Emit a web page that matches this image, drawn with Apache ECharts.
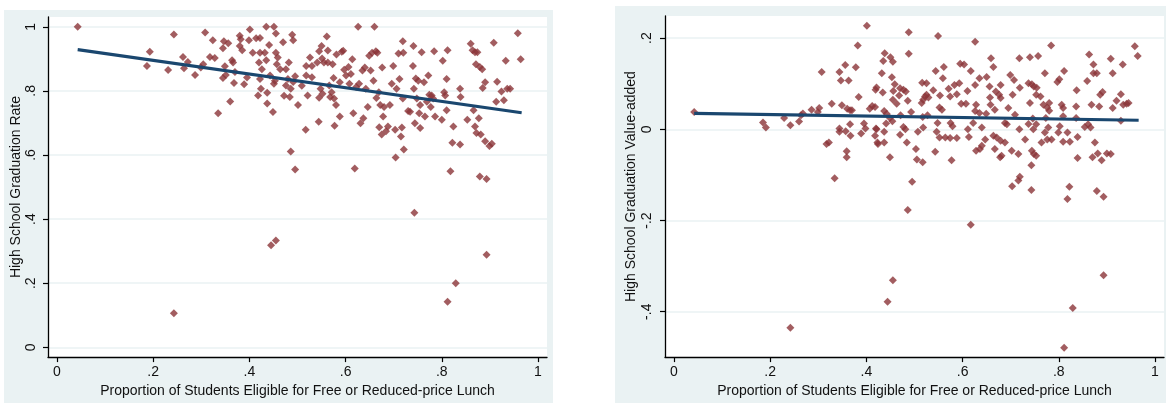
<!DOCTYPE html>
<html>
<head>
<meta charset="utf-8">
<script src="https://cdn.jsdelivr.net/npm/echarts@6/dist/echarts.min.js"></script>
<style>
html,body{margin:0;padding:0;background:#fff;}
#c{width:1166px;height:403px;}
</style>
</head>
<body>
<div id="c"></div>
<script>
// ---- DATA ----
const xTicks = [0, 0.2, 0.4, 0.6, 0.8, 1];
const leftYTicks = [0, 0.2, 0.4, 0.6, 0.8, 1];
const rightYTicks = [-0.4, -0.2, 0, 0.2];

const xTitle = 'Proportion of Students Eligible for Free or Reduced-price Lunch';
const leftYTitle = 'High School Graduation Rate';
const rightYTitle = 'High School Graduation Value-added';

// [free/reduced lunch share, graduation rate]
const gradRatePoints = [
[0.043,1.00],[0.187,0.878],[0.193,0.922],[0.231,0.865],[0.243,0.976],[0.262,0.906],[0.264,0.871],[0.272,0.890],
[0.287,0.850],[0.299,0.873],[0.304,0.883],[0.308,0.982],[0.318,0.906],[0.328,0.903],[0.324,0.958],[0.335,0.730],
[0.345,0.840],[0.345,0.933],[0.347,0.955],[0.356,0.949],[0.351,0.850],[0.360,0.767],[0.364,0.896],[0.366,0.889],
[0.370,0.859],[0.368,0.825],[0.380,0.972],[0.382,0.961],[0.380,0.940],[0.385,0.927],[0.389,0.821],[0.395,0.842],
[0.401,0.992],[0.399,0.958],[0.407,0.919],[0.414,0.964],[0.422,0.965],[0.418,0.786],[0.420,0.889],[0.422,0.919],
[0.422,0.837],[0.424,0.807],[0.426,0.868],[0.432,0.919],[0.435,0.896],[0.437,0.794],[0.437,0.761],[0.441,0.943],
[0.435,1.00],[0.451,1.00],[0.455,0.979],[0.449,0.734],[0.443,0.848],[0.453,0.832],[0.451,0.822],[0.455,0.919],
[0.459,0.904],[0.457,0.883],[0.464,0.868],[0.470,0.952],[0.472,0.785],[0.476,0.868],[0.482,0.889],[0.484,0.781],
[0.486,0.807],[0.489,0.975],[0.491,0.958],[0.480,0.837],[0.476,0.817],[0.486,0.611],[0.495,0.555],[0.501,0.756],
[0.445,0.318],[0.455,0.333],[0.243,0.106],[0.743,0.420],[0.893,0.289],[0.829,0.200],[0.812,0.142],
[0.349,0.877],[0.491,0.828],[0.495,0.846],[0.509,0.816],
[0.517,0.679],[0.521,0.786],[0.518,0.878],[0.518,0.848],[0.526,0.904],[0.530,0.843],[0.530,0.878],[0.544,0.704],
[0.541,0.889],[0.545,0.924],[0.550,0.940],[0.551,0.901],[0.548,0.807],[0.545,0.779],[0.552,0.791],[0.555,0.889],
[0.561,0.970],[0.563,0.926],[0.563,0.889],[0.566,0.817],[0.568,0.781],[0.571,0.796],[0.573,0.883],[0.575,0.840],
[0.576,0.776],[0.577,0.691],[0.580,0.756],[0.581,0.914],[0.588,0.827],[0.588,0.720],[0.592,0.922],[0.595,0.925],
[0.597,0.866],[0.601,0.848],[0.606,0.875],[0.608,0.822],[0.611,0.853],[0.614,0.899],[0.616,0.730],[0.619,0.558],
[0.622,0.812],[0.626,1.00],[0.628,0.822],[0.631,0.699],[0.635,0.864],[0.637,0.715],[0.640,0.873],[0.642,0.807],
[0.646,0.750],[0.649,0.910],[0.652,0.864],[0.655,0.919],[0.660,1.00],[0.658,0.832],[0.663,0.924],[0.666,0.919],
[0.664,0.778],[0.669,0.796],[0.670,0.687],[0.672,0.756],[0.675,0.664],[0.676,0.873],[0.678,0.720],[0.680,0.750],
[0.684,0.674],[0.688,0.689],[0.692,0.756],[0.696,0.822],[0.699,0.878],[0.703,0.679],[0.704,0.592],[0.706,0.807],
[0.710,0.917],[0.712,0.837],[0.715,0.658],[0.717,0.686],[0.719,0.955],[0.720,0.919],[0.721,0.617],[0.719,0.776],
[0.730,0.737],[0.734,0.735],[0.740,0.878],[0.741,0.940],[0.742,0.807],[0.744,0.699],[0.746,0.839],[0.748,0.776],
[0.751,0.832],[0.753,0.730],[0.755,0.756],[0.758,0.921],[0.755,0.684],[0.763,0.827],[0.765,0.720],[0.769,0.766],
[0.772,0.848],[0.774,0.788],[0.777,0.750],[0.779,0.786],[0.782,0.776],[0.784,0.924],[0.786,0.720],[0.800,0.710],
[0.802,0.894],[0.805,0.796],[0.807,0.786],[0.810,0.837],[0.812,0.927],[0.810,0.740],[0.818,0.549],[0.822,0.638],
[0.824,0.689],[0.838,0.807],[0.839,0.781],[0.838,0.633],[0.853,0.710],[0.860,0.947],[0.864,0.927],[0.869,0.921],
[0.874,0.921],[0.866,0.740],[0.869,0.689],[0.871,0.883],[0.872,0.669],[0.877,0.715],[0.879,0.875],[0.879,0.533],
[0.881,0.664],[0.884,0.868],[0.885,0.809],[0.890,0.827],[0.890,0.643],[0.893,0.525],[0.899,0.628],[0.904,0.635],
[0.908,0.950],[0.913,0.766],[0.915,0.829],[0.924,0.798],[0.929,0.771],[0.933,0.894],[0.936,0.807],[0.942,0.807],
[0.958,0.980],[0.964,0.899]
];

// [free/reduced lunch share, value-added]
const valueAddedPoints = [
[0.042,0.038],[0.185,0.015],[0.191,0.004],[0.229,0.025],[0.242,0.009],[0.260,0.017],[0.264,0.031],[0.268,0.035],
[0.286,0.043],[0.299,0.038],[0.302,0.047],[0.307,0.126],[0.317,-0.032],[0.322,-0.029],[0.328,0.056],[0.334,-0.107],
[0.344,0.126],[0.347,0.107],[0.363,0.107],[0.356,0.141],[0.349,0.053],[0.344,0.002],[0.344,-0.005],[0.357,-0.004],
[0.360,0.045],[0.366,0.042],[0.370,0.042],[0.366,0.011],[0.367,-0.014],[0.359,-0.048],[0.359,-0.061],[0.378,0.136],
[0.382,0.184],[0.384,0.071],[0.389,-0.009],[0.395,0.013],[0.398,0.002],[0.401,0.227],[0.407,0.045],[0.412,0.051],
[0.418,0.049],[0.419,0.087],[0.421,0.092],[0.420,0.002],[0.418,-0.014],[0.424,-0.032],[0.421,0.000],[0.423,-0.029],
[0.488,0.213],[0.488,0.166],[0.549,0.205],[0.438,0.167],[0.435,0.150],[0.450,0.158],[0.455,0.148],[0.432,0.123],
[0.453,0.114],[0.459,0.099],[0.456,0.084],[0.470,0.090],[0.477,0.087],[0.482,0.083],[0.468,0.074],[0.455,0.065],
[0.463,0.056],[0.486,0.063],[0.434,0.081],[0.437,0.040],[0.442,0.034],[0.449,0.025],[0.454,0.018],[0.441,0.013],
[0.471,0.031],[0.493,0.038],[0.477,0.005],[0.481,0.000],[0.437,-0.005],[0.470,-0.012],[0.484,-0.029],[0.437,-0.029],
[0.449,-0.061],[0.503,-0.043],[0.505,-0.066],[0.517,-0.072],[0.495,-0.115],[0.486,-0.177],[0.507,-0.005],[0.518,0.004],
[0.517,0.027],[0.527,0.031],[0.515,0.058],[0.518,0.065],[0.522,0.072],[0.525,0.076],[0.529,0.070],[0.516,0.102],
[0.525,0.101],[0.539,0.086],[0.544,0.128],[0.553,0.074],[0.552,0.048],[0.557,0.043],[0.548,0.014],[0.546,-0.005],
[0.552,-0.018],[0.543,-0.049],[0.559,0.112],[0.561,0.137],[0.571,0.089],[0.574,0.072],[0.575,0.014],[0.579,0.007],
[0.564,-0.018],[0.574,-0.019],[0.577,-0.068],[0.588,-0.019],[0.583,0.097],[0.588,0.077],[0.595,0.144],[0.603,0.142],
[0.593,0.101],[0.597,0.056],[0.607,0.056],[0.610,0.084],[0.611,0.000],[0.613,-0.017],
[0.626,0.192],[0.617,0.128],[0.635,0.112],[0.650,0.115],[0.626,0.097],[0.628,0.054],[0.626,0.040],[0.635,0.036],
[0.649,0.034],[0.622,0.014],[0.640,0.004],[0.628,-0.047],[0.636,-0.043],[0.640,-0.036],[0.647,-0.022],[0.659,0.156],
[0.664,0.137],[0.656,0.094],[0.657,0.070],[0.658,0.054],[0.667,0.043],[0.664,-0.014],[0.671,-0.018],[0.667,-0.043],
[0.679,-0.025],[0.678,-0.061],[0.681,-0.058],[0.669,0.083],[0.676,0.076],[0.679,0.069],[0.679,0.097],[0.688,0.014],
[0.692,0.011],[0.688,-0.029],[0.695,0.047],[0.699,0.119],[0.704,0.076],[0.707,0.108],[0.702,-0.047],[0.703,-0.125],
[0.709,0.032],[0.716,-0.054],[0.716,-0.112],[0.719,-0.104],[0.718,0.156],[0.718,0.000],[0.719,0.091],[0.730,-0.022],
[0.740,0.158],[0.757,0.161],[0.737,0.101],[0.744,0.099],[0.748,0.094],[0.754,0.091],[0.740,0.058],[0.753,0.076],
[0.762,0.072],[0.746,0.024],[0.737,0.012],[0.747,0.000],[0.753,0.011],[0.744,-0.047],[0.748,-0.054],[0.753,-0.058],
[0.743,-0.079],[0.743,-0.133],[0.764,-0.029],[0.771,0.123],[0.768,0.054],[0.776,0.048],[0.780,0.058],[0.773,0.025],
[0.778,0.004],[0.771,-0.007],[0.776,-0.022],[0.785,-0.022],[0.784,0.184],[0.780,0.041],[0.797,0.104],[0.801,0.110],
[0.811,0.128],[0.806,0.054],[0.809,0.047],[0.809,0.029],[0.802,0.007],[0.799,-0.007],[0.809,-0.027],[0.818,-0.007],
[0.823,-0.027],[0.822,-0.126],[0.818,-0.153],[0.837,0.086],[0.836,0.050],[0.836,0.025],[0.839,-0.017],[0.839,-0.063],
[0.854,0.005],[0.861,0.011],[0.866,0.004],[0.859,0.106],[0.863,0.164],[0.868,0.054],[0.872,0.142],[0.872,0.123],
[0.879,0.123],[0.870,-0.061],[0.875,-0.029],[0.881,-0.053],[0.889,-0.068],[0.879,-0.135],[0.893,-0.148],[0.884,0.050],
[0.886,0.076],[0.891,0.082],[0.900,-0.053],[0.908,-0.054],[0.908,0.155],[0.912,0.123],[0.912,0.047],[0.920,0.063],
[0.929,0.077],[0.929,0.019],[0.933,0.142],[0.934,0.054],[0.941,0.056],[0.945,0.058],[0.958,0.182],[0.964,0.161],
[0.617,-0.209],[0.455,-0.331],[0.444,-0.378],[0.893,-0.320],[0.829,-0.392],[0.811,-0.479],[0.242,-0.435]
];

// fitted lines (end points)
const gradRateFit = [[0.043,0.929],[0.966,0.732]];
const valueAddedFit = [[0.042,0.035],[0.966,0.020]];

// ---- CHART ----
const FONT = '"Liberation Sans", Arial, Helvetica, sans-serif';
const TXT = '#111';
const PANEL = '#eaf2f3';
const MARKER = '#8b3538';
const LINE = '#1a476f';

function fmt(v) {
  const s = (+(+v).toFixed(3)).toString();
  return s.replace(/^(-?)0\./, '$1.');
}

function xAxisCfg(gi) {
  return {
    gridIndex: gi, type: 'value', min: -0.0187, max: 1.0187,
    name: xTitle, nameLocation: 'middle', nameGap: 23,
    nameTextStyle: { fontFamily: FONT, fontSize: 14, color: TXT },
    axisLine: { show: true, onZero: false, lineStyle: { color: '#000', width: 1.3 } },
    axisTick: { show: true, inside: false, length: 5, customValues: xTicks, lineStyle: { color: '#000', width: 1.2 } },
    axisLabel: { customValues: xTicks, formatter: fmt, fontFamily: FONT, fontSize: 14, color: TXT, margin: 8 },
    splitLine: { show: false }
  };
}
function yAxisCfg(gi, min, max, ticks, title, gap, margin) {
  return {
    gridIndex: gi, type: 'value', min: min, max: max,
    name: title, nameLocation: 'middle', nameRotate: 90, nameGap: gap,
    nameTextStyle: { fontFamily: FONT, fontSize: 14, color: TXT },
    axisLine: { show: true, onZero: false, lineStyle: { color: '#000', width: 1.3 } },
    axisTick: { show: true, inside: false, length: 5, customValues: ticks, lineStyle: { color: '#000', width: 1.2 } },
    axisLabel: { customValues: ticks, formatter: fmt, rotate: 90, fontFamily: FONT, fontSize: 14, color: TXT, margin: margin },
    splitLine: { show: true, lineStyle: { color: PANEL, width: 1.5 } }
  };
}

const chart = echarts.init(document.getElementById('c'), null, { renderer: 'canvas' });
chart.setOption({
  animation: false,
  backgroundColor: '#fff',
  graphic: [
    { type: 'rect', z: -10, shape: { x: 4, y: 10, width: 549, height: 393 }, style: { fill: PANEL } },
    { type: 'rect', z: -10, shape: { x: 615, y: 6, width: 551, height: 397 }, style: { fill: PANEL } }
  ],
  grid: [
    { left: 48, top: 17, right: 619, bottom: 40, show: true, backgroundColor: '#fff', borderWidth: 0, z: 0 },
    { left: 665, top: 16, right: 2, bottom: 41, show: true, backgroundColor: '#fff', borderWidth: 0, z: 0 }
  ],
  xAxis: [xAxisCfg(0), xAxisCfg(1)],
  yAxis: [
    yAxisCfg(0, -0.0307, 1.0307, leftYTicks, leftYTitle, 25, 10),
    yAxisCfg(1, -0.4995, 0.2486, rightYTicks, rightYTitle, 27, 11)
  ],
  series: [
    { type: 'scatter', xAxisIndex: 0, yAxisIndex: 0, data: gradRatePoints, symbol: 'diamond', symbolSize: 8,
      itemStyle: { color: MARKER }, z: 2 },
    { type: 'line', xAxisIndex: 0, yAxisIndex: 0, data: gradRateFit, showSymbol: false, symbol: 'none',
      lineStyle: { color: LINE, width: 3.2 }, z: 3 },
    { type: 'scatter', xAxisIndex: 1, yAxisIndex: 1, data: valueAddedPoints, symbol: 'diamond', symbolSize: 8,
      itemStyle: { color: MARKER }, z: 2 },
    { type: 'line', xAxisIndex: 1, yAxisIndex: 1, data: valueAddedFit, showSymbol: false, symbol: 'none',
      lineStyle: { color: LINE, width: 3.2 }, z: 3 }
  ]
});
</script>
</body>
</html>
